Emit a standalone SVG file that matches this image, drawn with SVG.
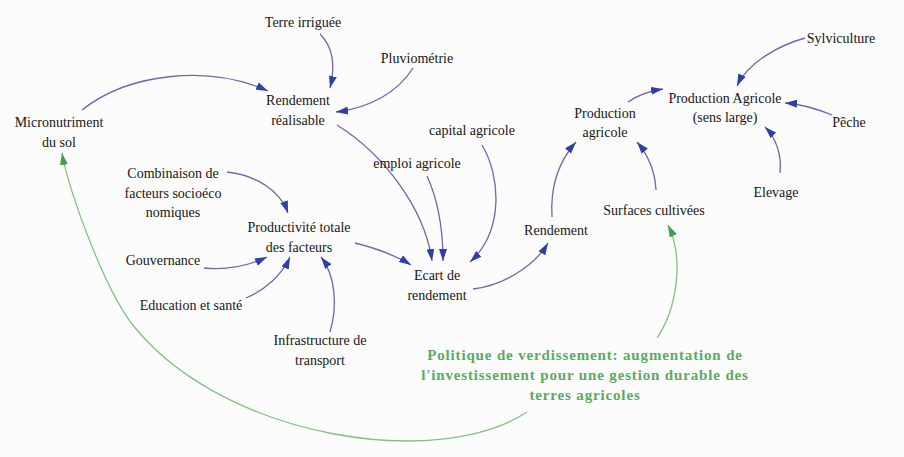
<svg xmlns="http://www.w3.org/2000/svg" width="904" height="457" viewBox="0 0 904 457">
<defs>
<marker id="ab" viewBox="0 0 12 8" refX="12" refY="4" markerWidth="12" markerHeight="8" orient="auto" markerUnits="userSpaceOnUse"><path d="M0,0 L12,4 L0,8 z" fill="#2f3fa5"/></marker>
<marker id="ag" viewBox="0 0 12 8" refX="12" refY="4" markerWidth="12" markerHeight="8" orient="auto" markerUnits="userSpaceOnUse"><path d="M0,0 L12,4 L0,8 z" fill="#3f9f4f"/></marker>
<style>
.b{fill:none;stroke:#7064b4;stroke-width:1.3;marker-end:url(#ab)}
.gr{fill:none;stroke:#86bf86;stroke-width:1.3;marker-end:url(#ag)}
</style>
</defs>
<rect width="904" height="457" fill="#fcfcfc"/>
<g id="connectors">
<path class="b" d="M320,34 C334,48 335,68 330,88"/>
<path class="b" d="M413,68 C398,92 370,108 336,112"/>
<path class="b" d="M82,110 C130,72 210,65 268,91"/>
<path class="b" d="M227,172 C255,175 280,190 288,213"/>
<path class="b" d="M204,268 C225,270 248,266 267,257"/>
<path class="b" d="M246,298 C265,290 282,275 290,257"/>
<path class="b" d="M330,332 C338,305 335,275 321,257"/>
<path class="b" d="M355,243 C375,248 395,255 411,265"/>
<path class="b" d="M337,125 C385,155 425,210 432,261"/>
<path class="b" d="M427,176 C438,200 443,230 443,261"/>
<path class="b" d="M482,145 C500,175 505,230 470,262"/>
<path class="b" d="M473,289 C505,285 535,265 548,243"/>
<path class="b" d="M552,217 C550,185 560,160 576,142"/>
<path class="b" d="M656,190 C655,170 648,155 637,142"/>
<path class="b" d="M628,102 C638,95 650,91 663,89"/>
<path class="b" d="M805,38 C780,45 748,62 737,86"/>
<path class="b" d="M832,115 C815,108 800,104 785,103"/>
<path class="b" d="M780,173 C782,155 776,138 765,127"/>
<path class="gr" d="M657,338 C676,310 685,260 668,225"/>
<path class="gr" d="M527,412 C440,470 230,440 137,330 C107,297 68,190 62,153"/>
</g>
<g id="terre-irriguee"><text font-family="Liberation Serif" font-size="14" fill="#161616" text-anchor="middle" x="303" y="27">Terre irriguée</text></g>
<g id="pluviometrie"><text font-family="Liberation Serif" font-size="14" fill="#161616" text-anchor="middle" x="417" y="63">Pluviométrie</text></g>
<g id="rendement-realisable"><text font-family="Liberation Serif" font-size="14" fill="#161616" text-anchor="middle" x="298" y="105">Rendement</text><text font-family="Liberation Serif" font-size="14" fill="#161616" text-anchor="middle" x="298" y="125">réalisable</text></g>
<g id="micronutriment"><text font-family="Liberation Serif" font-size="14" fill="#161616" text-anchor="middle" x="59" y="127">Micronutriment</text><text font-family="Liberation Serif" font-size="14" fill="#161616" text-anchor="middle" x="59" y="147">du sol</text></g>
<g id="combinaison"><text font-family="Liberation Serif" font-size="14" fill="#161616" text-anchor="middle" x="173" y="178">Combinaison de</text><text font-family="Liberation Serif" font-size="14" fill="#161616" text-anchor="middle" x="173" y="198">facteurs socioéco</text><text font-family="Liberation Serif" font-size="14" fill="#161616" text-anchor="middle" x="173" y="217">nomiques</text></g>
<g id="productivite"><text font-family="Liberation Serif" font-size="14" fill="#161616" text-anchor="middle" x="299" y="232">Productivité totale</text><text font-family="Liberation Serif" font-size="14" fill="#161616" text-anchor="middle" x="299" y="252">des facteurs</text></g>
<g id="gouvernance"><text font-family="Liberation Serif" font-size="14" fill="#161616" text-anchor="middle" x="163" y="265">Gouvernance</text></g>
<g id="education"><text font-family="Liberation Serif" font-size="14" fill="#161616" text-anchor="middle" x="191" y="310">Education et santé</text></g>
<g id="infrastructure"><text font-family="Liberation Serif" font-size="14" fill="#161616" text-anchor="middle" x="320" y="345">Infrastructure de</text><text font-family="Liberation Serif" font-size="14" fill="#161616" text-anchor="middle" x="320" y="365">transport</text></g>
<g id="capital"><text font-family="Liberation Serif" font-size="14" fill="#161616" text-anchor="middle" x="472" y="135">capital agricole</text></g>
<g id="emploi"><text font-family="Liberation Serif" font-size="14" fill="#161616" text-anchor="middle" x="417" y="168">emploi agricole</text></g>
<g id="ecart"><text font-family="Liberation Serif" font-size="14" fill="#161616" text-anchor="middle" x="437" y="280">Ecart de</text><text font-family="Liberation Serif" font-size="14" fill="#161616" text-anchor="middle" x="437" y="300">rendement</text></g>
<g id="rendement"><text font-family="Liberation Serif" font-size="14" fill="#161616" text-anchor="middle" x="556" y="235">Rendement</text></g>
<g id="surfaces"><text font-family="Liberation Serif" font-size="14" fill="#161616" text-anchor="middle" x="654" y="215">Surfaces cultivées</text></g>
<g id="production-agricole"><text font-family="Liberation Serif" font-size="14" fill="#161616" text-anchor="middle" x="605" y="118">Production</text><text font-family="Liberation Serif" font-size="14" fill="#161616" text-anchor="middle" x="605" y="137">agricole</text></g>
<g id="production-large"><text font-family="Liberation Serif" font-size="14" fill="#161616" text-anchor="middle" x="725" y="103">Production Agricole</text><text font-family="Liberation Serif" font-size="14" fill="#161616" text-anchor="middle" x="725" y="122">(sens large)</text></g>
<g id="sylviculture"><text font-family="Liberation Serif" font-size="14" fill="#161616" text-anchor="middle" x="841" y="43">Sylviculture</text></g>
<g id="peche"><text font-family="Liberation Serif" font-size="14" fill="#161616" text-anchor="middle" x="849" y="127">Pêche</text></g>
<g id="elevage"><text font-family="Liberation Serif" font-size="14" fill="#161616" text-anchor="middle" x="776" y="197">Elevage</text></g>
<g id="politique"><text font-family="Liberation Serif" font-size="15" font-weight="bold" letter-spacing="0.85" fill="#5aab62" text-anchor="middle" x="585" y="360">Politique de verdissement: augmentation de</text><text font-family="Liberation Serif" font-size="15" font-weight="bold" letter-spacing="0.85" fill="#5aab62" text-anchor="middle" x="585" y="380">l'investissement pour une gestion durable des</text><text font-family="Liberation Serif" font-size="15" font-weight="bold" letter-spacing="0.85" fill="#5aab62" text-anchor="middle" x="585" y="400">terres agricoles</text></g>
</svg>
